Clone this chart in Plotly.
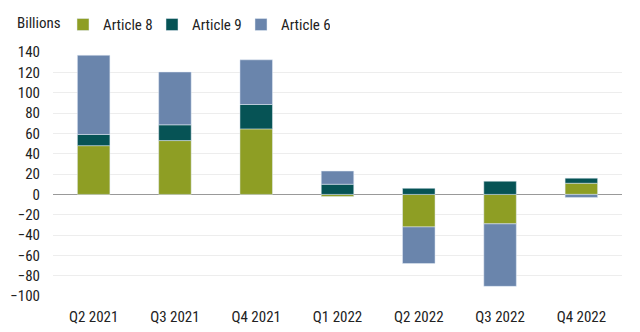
import plotly.graph_objects as go

categories = ["Q2 2021", "Q3 2021", "Q4 2021", "Q1 2022", "Q2 2022", "Q3 2022", "Q4 2022"]
article8 = [48, 53, 64.5, -2, -32, -29, 11]
article9 = [11, 15.5, 24, 10, 6, 13, 5]
article6 = [78, 52, 44, 13, -36, -61.5, -3]
y_ticks = [-100, -80, -60, -40, -20, 0, 20, 40, 60, 80, 100, 120, 140]

FONT = "Roboto Condensed, Liberation Sans Narrow, Roboto, sans-serif"

T, B, L, R = 8, 36, 53, 18
PH = 332 - T - B          # full paper height in px
PW = 640 - L - R
AX_TOP = 47               # pixel where the y axis starts


def py(pix):
    return (332 - B - pix) / PH


fig = go.Figure()
fig.add_bar(x=categories, y=article8, name="Article 8", marker_color="#8E9E24")
fig.add_bar(x=categories, y=article9, name="Article 9", marker_color="#065355")
fig.add_bar(x=categories, y=article6, name="Article 6", marker_color="#6A85AC")

fig.update_layout(
    barmode="relative",
    bargap=0.6,
    width=640, height=332,
    margin=dict(l=L, r=R, t=T, b=B),
    paper_bgcolor="white", plot_bgcolor="white",
    font=dict(family=FONT, size=15, color="#222"),
    showlegend=True,
    legend=dict(orientation="h", x=(63 - L) / PW, xref="paper", y=py(19), yref="paper",
                yanchor="middle", xanchor="left", font=dict(size=15),
                itemwidth=30, tracegroupgap=0, entrywidth=44, entrywidthmode="pixels"),
)
fig.add_annotation(text="Billions", xref="paper", yref="paper", x=(39 - L) / PW, y=py(17),
                   xanchor="center", yanchor="middle", showarrow=False,
                   font=dict(size=15, family=FONT))
fig.update_yaxes(range=[-100, 140], tickvals=y_ticks, showgrid=True, automargin=False,
                 domain=[0, py(AX_TOP)],
                 gridcolor="#EDEDED", gridwidth=1, zeroline=True,
                 zerolinecolor="#999999", zerolinewidth=1, ticks="",
                 ticklabelstandoff=12, tickfont=dict(size=15))
fig.update_xaxes(showgrid=False, ticks="", ticklabelstandoff=10, automargin=False,
                 tickfont=dict(size=15))

fig.write_html("out.html")
